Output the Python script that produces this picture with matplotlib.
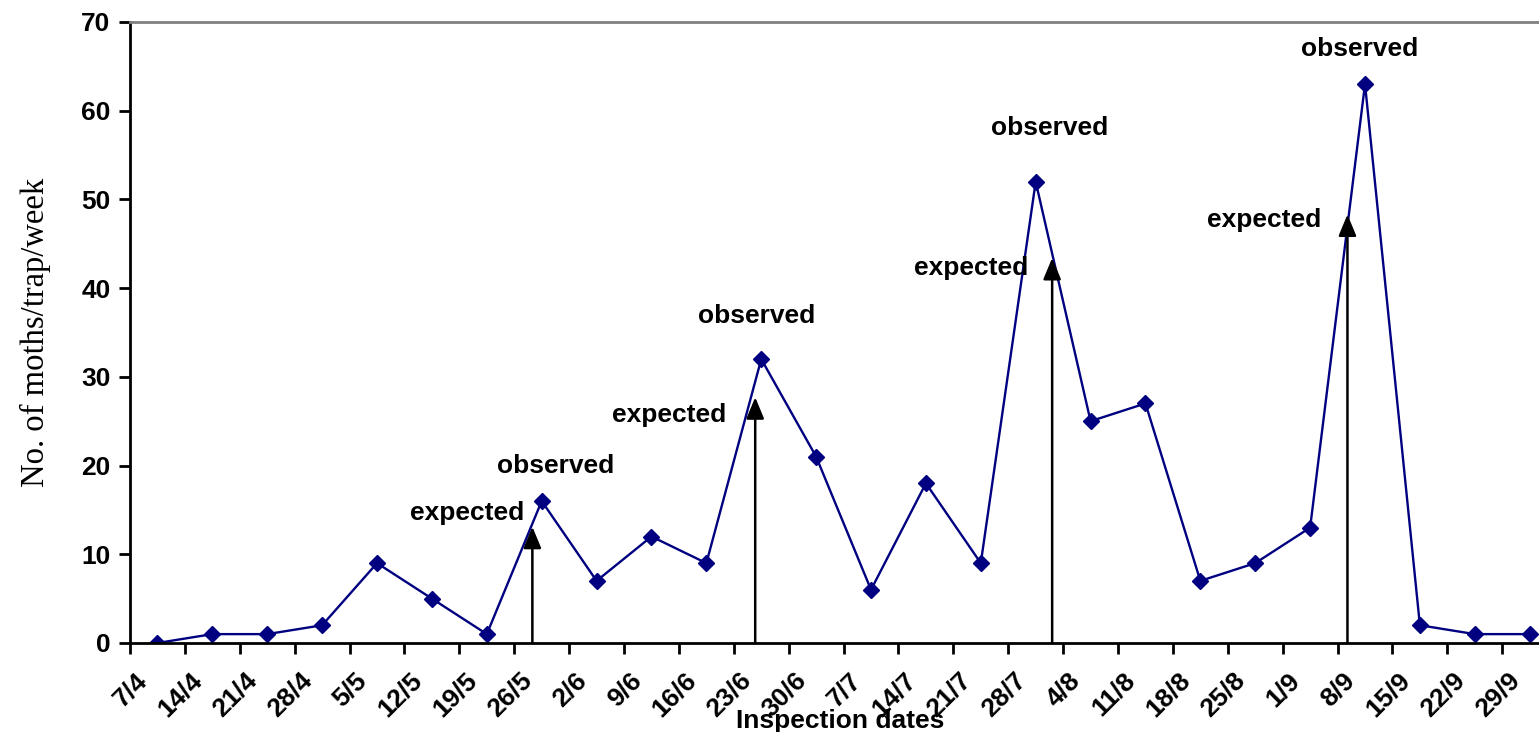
import matplotlib
matplotlib.use('Agg')
import matplotlib.pyplot as plt
import matplotlib.transforms as mtransforms
import numpy as np

# inspection dates and weekly trap catches
dates = ['7/4', '14/4', '21/4', '28/4', '5/5', '12/5', '19/5', '26/5', '2/6',
         '9/6', '16/6', '23/6', '30/6', '7/7', '14/7', '21/7', '28/7', '4/8',
         '11/8', '18/8', '25/8', '1/9', '8/9', '15/9', '22/9', '29/9']
moths = [0, 1, 1, 2, 9, 5, 1, 16, 7, 12, 9, 32, 21, 6, 18, 9, 52, 25, 27, 7,
         9, 13, 63, 2, 1, 1]

# expected peaks (position on the category axis, arrow height)
expected_x = [6.83, 10.89, 16.3, 21.68]
expected_y = [13.1, 27.7, 43.4, 48.3]

# label positions for the "expected" / "observed" notes
exp_text_x = [5.65, 9.33, 14.83, 20.16]
exp_text_y = [14.7, 25.7, 42.3, 47.7]
obs_text_x = [7.25, 10.91, 16.25, 21.91]
obs_text_y = [20.0, 36.9, 58.1, 66.9]

plt.rcParams['font.family'] = ['Liberation Sans', 'DejaVu Sans']

fig = plt.figure(figsize=(15.39, 7.32), dpi=100)
ax = fig.add_axes([0.0845, 0.1216, 0.9155, 0.8484])

x = np.arange(len(dates))
ax.plot(x, moths, color='#000080', lw=1.7, marker='D', ms=8.5,
        markerfacecolor='#000080', markeredgecolor='#000080')

for xe, ye in zip(expected_x, expected_y):
    ax.annotate('', xy=(xe, ye), xytext=(xe, 0),
                arrowprops=dict(arrowstyle='-|>,head_width=0.27,head_length=0.65',
                                color='black', lw=1.8, shrinkA=0, shrinkB=0,
                                mutation_scale=20))

for xt, yt in zip(exp_text_x, exp_text_y):
    ax.text(xt, yt, 'expected', ha='center', va='center', fontsize=19,
            fontweight='bold')
for xt, yt in zip(obs_text_x, obs_text_y):
    ax.text(xt, yt, 'observed', ha='center', va='center', fontsize=19,
            fontweight='bold')

ax.set_yticks(np.arange(0, 71, 10))

# ticks between categories, labels at category centres
ax.set_xticks(np.arange(-0.5, len(dates), 1.0))
ax.set_xticklabels([])
ax.set_xticks(x, minor=True)
ax.set_xticklabels(dates, minor=True, rotation=45, ha='right', va='center',
                   rotation_mode='anchor', fontsize=19, fontweight='bold')
ax.tick_params(axis='x', which='minor', length=0, pad=24)
ax.tick_params(axis='x', which='major', length=8, width=2, direction='out')
ax.tick_params(axis='y', length=8, width=2, direction='out', labelsize=19,
               pad=6)
for lab in ax.get_yticklabels():
    lab.set_fontweight('bold')

ax.set_xlim(-0.5, 25.17)
ax.set_ylim(0, 70)

offset = mtransforms.ScaledTranslation(-14 / 100, 0, fig.dpi_scale_trans)
for lab in ax.xaxis.get_minorticklabels():
    lab.set_transform(lab.get_transform() + offset)

ax.spines['right'].set_visible(False)
ax.spines['top'].set_color('#808080')
ax.spines['top'].set_linewidth(2)
ax.spines['left'].set_linewidth(2)
ax.spines['bottom'].set_linewidth(2)

ax.set_ylabel('No. of moths/trap/week', family='Liberation Serif', fontsize=23.5,
              labelpad=22)
ax.set_xlabel('Inspection dates', fontsize=19, fontweight='bold')
ax.xaxis.set_label_coords(0.504, -0.107)

fig.savefig('out.png', dpi=100)
